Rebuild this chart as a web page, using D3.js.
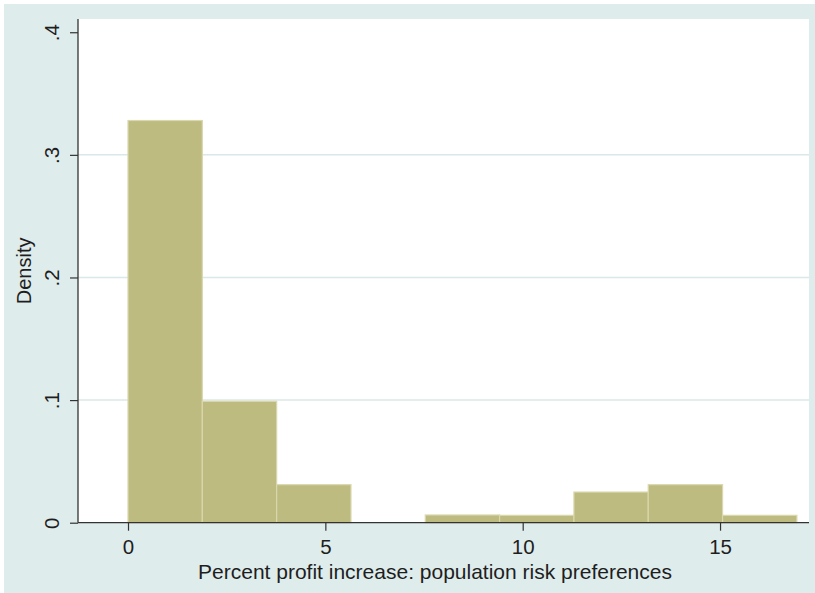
<!DOCTYPE html>
<html>
<head>
<meta charset="utf-8">
<script src="https://cdn.jsdelivr.net/npm/d3@7/dist/d3.min.js"></script>
<style>
  html, body { margin: 0; padding: 0; background: #ffffff; }
  svg { display: block; }
  text { font-family: "Liberation Sans", Arial, sans-serif; fill: #1e1e1e; }
</style>
</head>
<body>
<svg id="chart" width="815" height="593"></svg>
<script>
// Histogram bins: left edges and density heights
const binEdges = [0, 1.883, 3.766, 5.649, 7.532, 9.415, 11.298, 13.181, 15.064, 16.947];
const densities = [0.328, 0.099, 0.031, 0, 0.0063, 0.0060, 0.025, 0.031, 0.0060];
const xTicks = [0, 5, 10, 15];
const yTicks = [0, 0.1, 0.2, 0.3, 0.4];
const yTickLabels = ["0", ".1", ".2", ".3", ".4"];
const xTitle = "Percent profit increase: population risk preferences";
const yTitle = "Density";

const bins = densities.map((d, i) => ({ x0: binEdges[i], x1: binEdges[i + 1], density: d }));

const svg = d3.select("#chart");
const W = 815, H = 593;
const plot = { left: 78, right: 809, top: 19, bottom: 522.7 };

// outer graph region
svg.append("rect")
  .attr("x", 4).attr("y", 4).attr("width", W - 4).attr("height", H - 4)
  .attr("fill", "#dfecec");

// inner plot region
svg.append("rect")
  .attr("x", plot.left).attr("y", plot.top)
  .attr("width", plot.right - plot.left).attr("height", plot.bottom - plot.top)
  .attr("fill", "#ffffff");

const x = d3.scaleLinear().domain([-1.267, 17.254]).range([plot.left, plot.right]);
const y = d3.scaleLinear().domain([0, 0.4108]).range([plot.bottom, plot.top]);

// horizontal grid lines
svg.append("g").selectAll("line")
  .data(yTicks.filter(t => t > 0 && t < 0.4))
  .join("line")
  .attr("x1", plot.left).attr("x2", plot.right)
  .attr("y1", d => y(d)).attr("y2", d => y(d))
  .attr("stroke", "#dbe8e9").attr("stroke-width", 1.5);

// bars
svg.append("g").selectAll("rect")
  .data(bins.filter(b => b.density > 0))
  .join("rect")
  .attr("x", d => x(d.x0))
  .attr("width", d => x(d.x1) - x(d.x0))
  .attr("y", d => y(d.density))
  .attr("height", d => y(0) - y(d.density))
  .attr("fill", "#bebb80")
  .attr("stroke", "#d9d7ac")
  .attr("stroke-width", 1.2);

// y axis
const yAxis = d3.axisLeft(y)
  .tickValues(yTicks)
  .tickFormat((d, i) => yTickLabels[i])
  .tickSize(8)
  .tickPadding(10);
const gy = svg.append("g").attr("transform", `translate(${plot.left},0)`).call(yAxis);
gy.select(".domain").attr("stroke", "#333").attr("stroke-width", 1.3)
  .attr("d", `M0,${plot.bottom}V${plot.top}`);
gy.selectAll(".tick line").attr("stroke", "#333").attr("stroke-width", 1.2);
gy.selectAll(".tick text")
  .attr("font-size", 20.5)
  .attr("fill", "#1e1e1e")
  .attr("x", null).attr("dy", null)
  .attr("text-anchor", "middle")
  .attr("transform", "translate(-19,0) rotate(-90)");

// x axis
const xAxis = d3.axisBottom(x)
  .tickValues(xTicks)
  .tickFormat(d3.format("d"))
  .tickSize(8)
  .tickPadding(9);
const gx = svg.append("g").attr("transform", `translate(0,${plot.bottom})`).call(xAxis);
gx.select(".domain").attr("stroke", "#333").attr("stroke-width", 1.3)
  .attr("d", `M${plot.left},0H${plot.right}`);
gx.selectAll(".tick line").attr("stroke", "#333").attr("stroke-width", 1.2);
gx.selectAll(".tick text").attr("font-size", 20.5).attr("fill", "#1e1e1e");

// axis titles
svg.append("text")
  .attr("x", 435).attr("y", 579)
  .attr("text-anchor", "middle")
  .attr("font-size", 21)
  .text(xTitle);

svg.append("text")
  .attr("transform", `translate(31,${(plot.top + plot.bottom) / 2}) rotate(-90)`)
  .attr("text-anchor", "middle")
  .attr("font-size", 20)
  .text(yTitle);
</script>
</body>
</html>
